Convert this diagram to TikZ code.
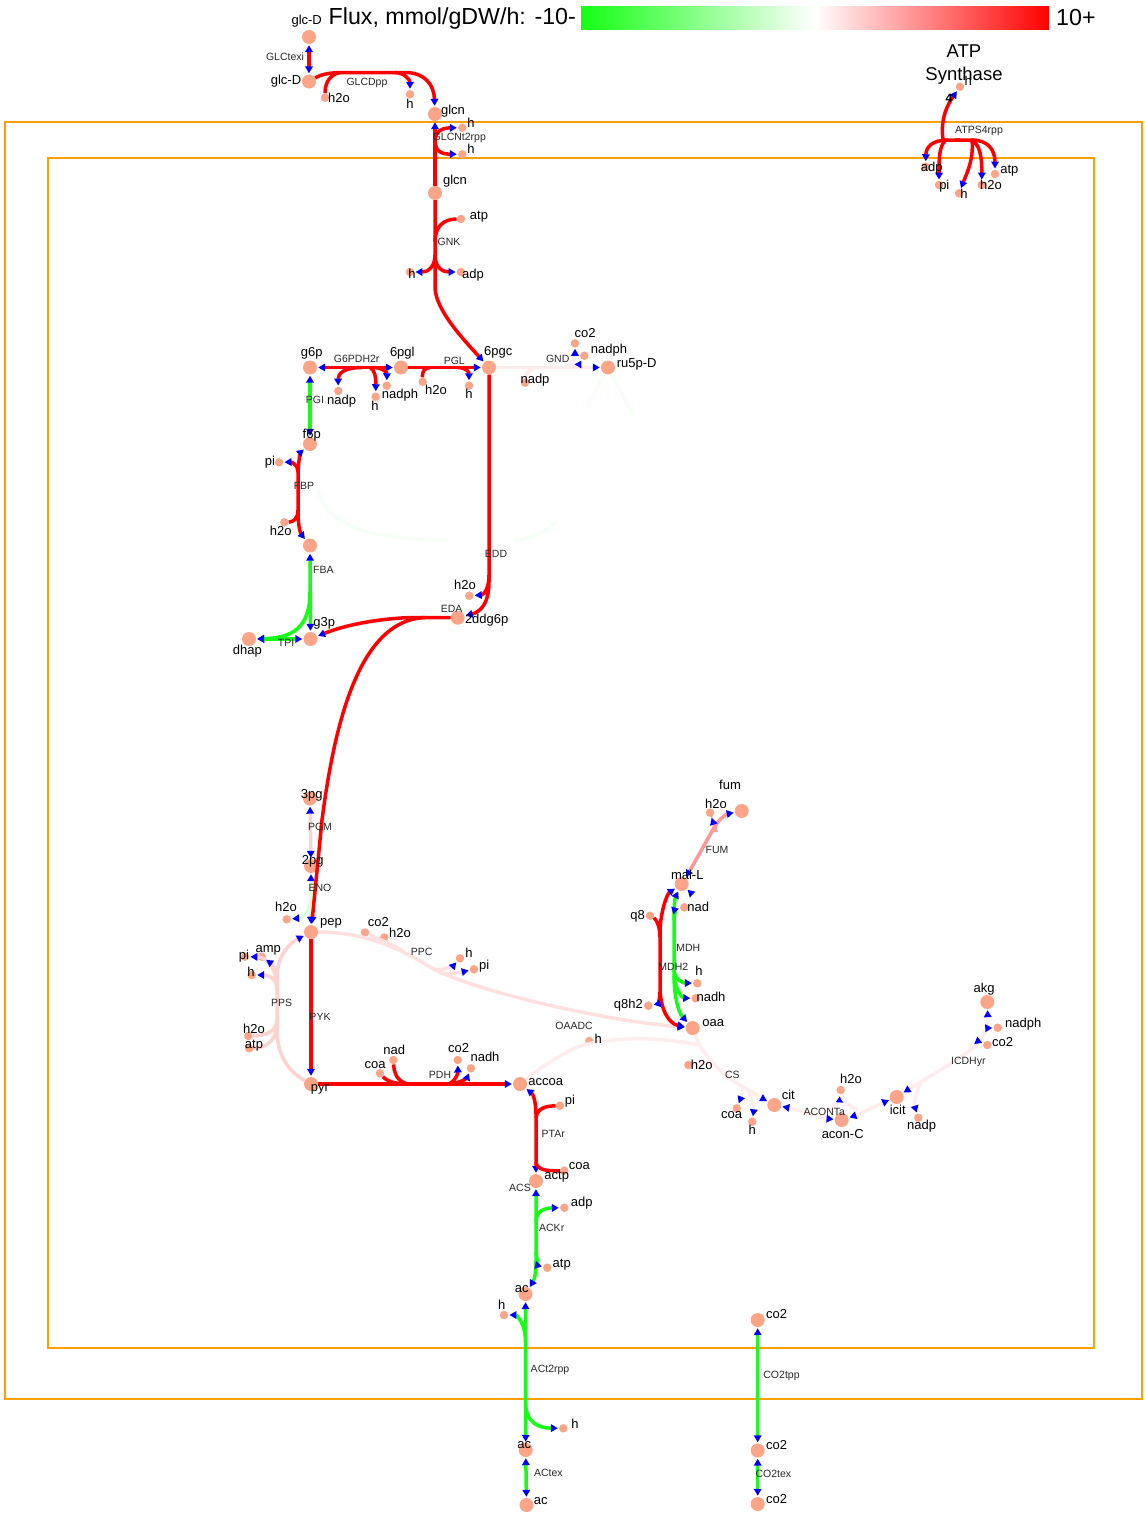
\documentclass[tikz,border=0pt]{standalone}
\usepackage{fontspec}
\setmainfont{Liberation Sans}
\usetikzlibrary{arrows.meta}

\definecolor{fred}{RGB}{255,0,0}
\definecolor{fgreen}{RGB}{20,255,20}
\definecolor{fpink}{RGB}{255,210,210}
\definecolor{flight}{RGB}{255,224,224}
\definecolor{fsalmon}{RGB}{255,150,150}
\definecolor{ffaint}{RGB}{255,236,236}
\definecolor{fnil}{RGB}{255,248,248}
\definecolor{fglight}{RGB}{220,255,220}
\definecolor{fgfaint}{RGB}{246,255,246}
\definecolor{metc}{RGB}{250,165,135}
\definecolor{compc}{RGB}{255,160,0}
\definecolor{rlabc}{RGB}{40,40,40}

\begin{document}
\begin{tikzpicture}[x=1pt, y=-1pt,
  >={Triangle[length=7pt, width=7.5pt, color=blue]},
  met/.style={circle, fill=metc, inner sep=0pt, minimum size=14pt},
  cof/.style={circle, fill=metc, inner sep=0pt, minimum size=8.5pt},
  mlab/.style={font=\fontsize{13}{14}\selectfont, inner sep=0pt, text height=9pt, text depth=2.5pt},
  rlab/.style={font=\fontsize{10.5}{11}\selectfont, text=rlabc, inner sep=0pt, text height=7.5pt, text depth=2pt},
  flux/.style={line width=3.5pt},
  ar/.style={->, shorten >=1pt},
  ar2/.style={<->, shorten >=1pt, shorten <=1pt}]
  \useasboundingbox (0,0) rectangle (1144,1513);

  % compartments
  \draw[compc, line width=2pt] (5,122) rectangle (1142,1399);
  \draw[compc, line width=2pt] (48,158) rectangle (1094,1348);

  % legend
  \shade[left color=fgreen, right color=white] (581,6) rectangle (815,29);
  \shade[left color=white, right color=fred] (815,6) rectangle (1049,29);
  \node[font=\fontsize{23.2}{25}\selectfont, anchor=east, inner sep=0pt] (ttl) at (576,18) {Flux, mmol/gDW/h: -10-};
  \node[font=\fontsize{23.2}{25}\selectfont, anchor=west, inner sep=0pt] (tmax) at (1056,18) {10+};
  \node[font=\fontsize{18.5}{23}\selectfont, align=center, inner sep=0pt] (atps) at (964,65) {ATP\\Synthase};

  % metabolites
  \foreach \n/\x/\y in {glcDe/309/37, glcDp/309/81.5, glcnp/435/114, glcnc/435/193,
      g6p/310/367.5, pgl/401/367.5, pgc/489/367.5, ru5p/608/367.5, f6p/310/444,
      fdp/310/545.5, g3p/310.5/639, dhap/249/639, ddg/457.7/617.7, pgt/310/798.5,
      pgd/311/866, pep/311/932, pyr/311/1084, accoa/520/1084, actp/536/1181,
      acc/525.5/1294, acp/525.7/1450, ace/526.5/1505, co2c/757.7/1320,
      co2p/757.7/1450.5, co2e/757.7/1504, fum/741.7/811, malL/681.7/884,
      oaa/692.7/1028, cit/774.3/1105, acon/841.7/1120, icit/896.7/1097, akg/987.3/1002}
    \node[met] (\n) at (\x,\y) {};
  \foreach \n/\x/\y in {h2oGP/325/97.7, hGP/410/94.3, hTa/462.3/127.7, hTb/462.3/154.3,
      atpGNK/461/219, adpGNK/461/272, hGNK/410/272, hATa/960/86.7, adpAT/925.7/166.7,
      piAT/939/185, hATb/959/193.3, h2oAT/981.7/185, atpAT/995/174,
      nadpGDH/338.3/391, hGDH/375.7/396.7, nadphGDH/386.7/385.7, h2oPGL/422.7/381.7,
      hPGL/469/385.7, nadpGND/525/382.7, co2GND/575/343.3, nadphGND/584.3/355.7,
      piFBP/279/462.3, h2oFBP/284.3/522.3, h2oEDD/469.3/595.7, h2oENO/286.7/919.3,
      piPPS/245/956.7, ampPPS/261.7/956.7, hPPS/251.7/975, h2oPPS/248.3/1036,
      atpPPS/249.3/1048.3, co2PPC/365/932.5, h2oPPC/384.3/937.5, hPPC/460/958.3,
      piPPC/474/969.3, coaPDH/380/1073.3, nadPDH/393.3/1060, co2PDH/457.7/1060,
      nadhPDH/471/1068.3, piPTA/560/1105.7, coaPTA/564.3/1170.7, adpACK/564.3/1207.7,
      atpACK/547.3/1267.7, hACa/504/1315, hACb/563.3/1428.3, h2oFUM/710/812.7,
      nadMDH/684.3/907.3, hMDH/697.3/983.3, nadhMDH/695.7/998.3, qe/650/915.7,
      qeh/648.3/1005.7, hOAA/589.3/1041, h2oCS/688.3/1065, coaCS/736.7/1108.3,
      hCS/752.3/1121.7, h2oAC/840.7/1090, nadpICD/918.3/1117.7,
      nadphICD/997.7/1027.7, co2ICD/987.3/1045}
    \node[cof] (\n) at (\x,\y) {};

  % glucose uptake
  \draw[flux, fred, ar2] (glcDe) -- (glcDp);
  \draw[flux, fred, ar] (glcDp) .. controls (322,74) and (330,72.5) .. (345,72.5) -- (405,72.5) .. controls (425,72.5) and (434,85) .. (glcnp);
  \draw[flux, fred] (340,72.5) .. controls (328,75) and (325,85) .. (h2oGP);
  \draw[flux, fred, ar] (395,72.5) .. controls (405,73) and (410,80) .. (hGP);
  \draw[flux, fred, ar] (glcnc) -- (glcnp);
  \draw[flux, fred, ar] (435,142) .. controls (435,131) and (442,128) .. (hTa);
  \draw[flux, fred, ar] (435,140) .. controls (435,152) and (442,154) .. (hTb);
  \draw[flux, fred, ar] (glcnc) -- (435,288) .. controls (436,310) and (462,338) .. (pgc);
  \draw[flux, fred] (435,242) .. controls (435,226) and (444,219) .. (atpGNK);
  \draw[flux, fred, ar] (435,255) .. controls (435,268) and (443,272) .. (adpGNK);
  \draw[flux, fred, ar] (435,255) .. controls (435,268) and (427,272) .. (hGNK);

  % ATP synthase
  \draw[flux, fred, ar] (960,140) -- (943,140) .. controls (940,118) and (948,104) .. (hATa);
  \draw[flux, fred, ar] (948,140) .. controls (931,140) and (926,148) .. (adpAT);
  \draw[flux, fred, ar] (946,140) .. controls (939,145) and (939,160) .. (piAT);
  \draw[flux, fred, ar] (955,140) -- (972,140) .. controls (974,160) and (966,175) .. (hATb);
  \draw[flux, fred, ar] (970,140) .. controls (980,142) and (982,158) .. (h2oAT);
  \draw[flux, fred, ar] (972,140) .. controls (988,140) and (995,150) .. (atpAT);

  % pentose phosphate / ED
  \draw[flux, fred, ar2] (g6p) -- (pgl);
  \draw[flux, fred, ar] (362,367.5) .. controls (345,367.5) and (338,373) .. (nadpGDH);
  \draw[flux, fred, ar] (370,367.5) .. controls (375,370) and (376,378) .. (hGDH);
  \draw[flux, fred, ar] (374,367.5) .. controls (384,368) and (387,373) .. (nadphGDH);
  \draw[flux, fred, ar] (pgl) -- (pgc);
  \draw[flux, fred] (430,367.5) .. controls (424,368) and (422,372) .. (h2oPGL);
  \draw[flux, fred, ar] (458,367.5) .. controls (467,368) and (469,372) .. (hPGL);
  \draw[flux, ffaint, ar] (pgc) -- (ru5p);
  \draw[flux, ffaint] (535,367.5) .. controls (528,370) and (526,375) .. (nadpGND);
  \draw[flux, ffaint, ar] (565,367.5) .. controls (572,364) and (575,358) .. (co2GND);
  \draw[flux, ffaint, ar] (568,367.5) .. controls (576,366) and (580,363) .. (nadphGND);
  \draw[flux, fgfaint] (ru5p) -- (587,407);
  \draw[flux, fgfaint] (ru5p) -- (633,415);
  \draw[flux, fgfaint] (318,490) .. controls (325,525) and (370,540) .. (447,540);
  \draw[flux, fgfaint] (513,540) .. controls (530,540) and (545,532) .. (556,522);
  \draw[flux, fred, ar] (pgc) -- (489,582) .. controls (489,604) and (480,612) .. (ddg);
  \draw[flux, fred, ar] (489,575) .. controls (489,590) and (483,595) .. (h2oEDD);

  % upper glycolysis
  \draw[flux, fgreen, ar2] (f6p) -- (g6p);
  \draw[flux, fred, ar2] (f6p) .. controls (301,452) and (298,462) .. (298,475) -- (298,512) .. controls (298,527) and (301,534) .. (fdp);
  \draw[flux, fred, ar] (298,472) .. controls (298,465) and (292,462) .. (piFBP);
  \draw[flux, fred] (298,510) .. controls (298,519) and (293,522) .. (h2oFBP);
  \draw[flux, fgreen, ar2] (fdp) -- (g3p);
  \draw[flux, fgreen, ar] (310,592) .. controls (310,628) and (292,638) .. (dhap);
  \draw[flux, fgreen, ar2] (dhap) -- (g3p);

  % lower glycolysis
  \draw[flux, fpink, ar2] (pgt) -- (pgd);
  \draw[flux, fglight, ar2] (pgd) -- (pep);
  \draw[flux, fglight, ar] (311,898) .. controls (311,912) and (302,918) .. (h2oENO);
  \draw[flux, fred, ar] (ddg) -- (415,617.5) .. controls (380,618) and (345,625) .. (g3p);
  \draw[flux, fred, ar] (425,617.5) .. controls (360,620) and (335,720) .. (322,820) -- (pep);
  \draw[flux, fpink, ar] (pyr) .. controls (286,1070) and (277,1052) .. (277,1030) -- (277,978) .. controls (277,957) and (288,944) .. (pep);
  \draw[flux, fpink] (277,1020) .. controls (277,1031) and (266,1036) .. (h2oPPS);
  \draw[flux, fpink] (277,1024) .. controls (277,1040) and (266,1048) .. (atpPPS);
  \draw[flux, fpink, ar] (277,990) .. controls (277,966) and (266,957) .. (piPPS);
  \draw[flux, fpink, ar] (277,985) .. controls (277,972) and (272,964) .. (ampPPS);
  \draw[flux, fpink, ar] (277,988) .. controls (277,979) and (269,975) .. (hPPS);
  \draw[flux, fred, ar] (pep) -- (pyr);
  \draw[flux, flight, ar] (pep) .. controls (360,932) and (395,945) .. (430,967) .. controls (470,990) and (600,1020) .. (oaa);
  \draw[flux, flight] (398,948) .. controls (382,940) and (372,936) .. (co2PPC);
  \draw[flux, flight] (403,951) .. controls (392,946) and (386,943) .. (h2oPPC);
  \draw[flux, flight, ar] (436,970) .. controls (448,969) and (454,965) .. (hPPC);
  \draw[flux, flight, ar] (440,973) .. controls (452,974) and (462,972) .. (piPPC);

  % pyruvate to acetate
  \draw[flux, ffaint] (700,1045) .. controls (650,1035) and (600,1038) .. (575,1048) .. controls (555,1058) and (540,1068) .. (accoa);
  \draw[flux, fred, ar] (pyr) -- (accoa);
  \draw[flux, fred] (402,1083.5) .. controls (390,1083.5) and (384,1078) .. (coaPDH);
  \draw[flux, fred] (406,1083.5) .. controls (396,1080) and (394,1072) .. (nadPDH);
  \draw[flux, fred, ar] (450,1083.5) .. controls (456,1080) and (458,1073) .. (co2PDH);
  \draw[flux, fred, ar] (452,1083.5) .. controls (462,1082) and (467,1078) .. (nadhPDH);
  \draw[flux, fred, ar2] (accoa) .. controls (533,1094) and (536,1102) .. (536,1114) -- (actp);
  \draw[flux, fred] (536,1118) .. controls (537,1108) and (546,1106) .. (piPTA);
  \draw[flux, fred] (536,1162) .. controls (537,1170) and (546,1171) .. (coaPTA);
  \draw[flux, fgreen, ar2] (actp) -- (536,1260) .. controls (536,1275) and (534,1280) .. (acc);
  \draw[flux, fgreen, ar] (536,1222) .. controls (536,1210) and (546,1208) .. (adpACK);
  \draw[flux, fgreen, ar] (536,1252) .. controls (537,1262) and (540,1266) .. (atpACK);
  \draw[flux, fgreen, ar2] (acc) -- (acp);
  \draw[flux, fgreen, ar] (525.5,1342) .. controls (525.5,1322) and (516,1315) .. (hACa);
  \draw[flux, fgreen, ar] (525.5,1402) .. controls (525.5,1424) and (540,1428) .. (hACb);
  \draw[flux, fgreen, ar2] (acp) -- (ace);
  \draw[flux, fgreen, ar2] (co2c) -- (co2p);
  \draw[flux, fgreen, ar2] (co2p) -- (co2e);

  % TCA
  \draw[flux, fsalmon, ar2] (malL) .. controls (695,862) and (708,838) .. (715,826) .. controls (720,818) and (727,814) .. (fum);
  \draw[flux, fsalmon, ar] (716,832) .. controls (715,825) and (713,822) .. (h2oFUM);
  \draw[flux, fnil, ar] (704,906) .. controls (698,900) and (694,896) .. (malL);
  \draw[flux, fred, ar2] (malL) .. controls (667,894) and (661,910) .. (660,930) -- (660,990) .. controls (661,1012) and (670,1024) .. (oaa);
  \draw[flux, fred] (660,937) .. controls (660,926) and (656,919) .. (qe);
  \draw[flux, fred, ar] (660,992) .. controls (660,1000) and (657,1004) .. (qeh);
  \draw[flux, fgreen, ar2] (malL) .. controls (675,898) and (674,905) .. (674,915) -- (674,975) .. controls (674,995) and (678,1012) .. (oaa);
  \draw[flux, fgreen, ar] (674,920) .. controls (674,912) and (678,909) .. (nadMDH);
  \draw[flux, fgreen, ar] (674,970) .. controls (675,980) and (683,983) .. (hMDH);
  \draw[flux, fgreen, ar] (674,976) .. controls (676,992) and (683,998) .. (nadhMDH);
  \draw[flux, ffaint, ar] (oaa) .. controls (700,1050) and (720,1075) .. (745,1088) .. controls (752,1092) and (758,1096) .. (cit);
  \draw[flux, ffaint] (712,1064) .. controls (700,1062) and (694,1064) .. (h2oCS);
  \draw[flux, ffaint, ar] (743,1087) .. controls (742,1095) and (740,1100) .. (coaCS);
  \draw[flux, ffaint, ar] (748,1090) .. controls (752,1100) and (754,1108) .. (hCS);
  \draw[flux, ffaint, ar2] (cit) .. controls (800,1110) and (820,1118) .. (acon);
  \draw[flux, ffaint, ar] (826,1112) .. controls (836,1106) and (840,1100) .. (h2oAC);
  \draw[flux, ffaint, ar2] (acon) .. controls (860,1114) and (875,1106) .. (icit);
  \draw[flux, ffaint] (858,1110) .. controls (846,1104) and (842,1100) .. (h2oAC);
  \draw[flux, ffaint, ar2] (icit) .. controls (920,1082) and (950,1065) .. (968,1052) .. controls (984,1040) and (988,1025) .. (akg);
  \draw[flux, ffaint, ar] (920,1084) .. controls (915,1095) and (914,1104) .. (nadpICD);
  \draw[flux, ffaint, ar] (982,1038) .. controls (985,1031) and (990,1028) .. (nadphICD);
  \draw[flux, ffaint, ar] (968,1052) .. controls (975,1045) and (980,1042) .. (co2ICD);

  % metabolite labels
  \foreach \x/\y/\t [count=\i] in {306.7/21.7/glc-D, 286/81/glc-D, 339/99/h2o, 410/105/h,
      453/111/glcn, 471/124/h, 471/150.7/h, 455/181/glcn, 479/216/atp, 473/275/adp,
      412/275/h, 968.3/82.7/h, 931.7/168.3/adp, 944.3/186.7/pi, 964/195/h,
      991/186.7/h2o, 1009.3/170.7/atp, 311.7/353.3/g6p, 402.3/353.3/6pgl,
      498.3/352.3/6pgc, 341.7/401/nadp, 375/407.3/h, 400/395/nadph, 436/391/h2o,
      469/395/h, 535/380/nadp, 585/334/co2, 609/350.7/nadph, 636.7/364/ru5p-D,
      311.7/435/f6p, 270/462.3/pi, 280.7/532.7/h2o, 324.3/623.3/g3p, 247.3/651/dhap,
      465/586.7/h2o, 486.7/620/2ddg6p, 311.7/795/3pg, 312.7/861/2pg, 286/908.3/h2o,
      331/922.7/pep, 320/1088.3/pyr, 244/956.7/pi, 268.3/949/amp, 251/973.3/h,
      254/1030.7/h2o, 254/1045.7/atp, 378.3/923.3/co2, 400/934/h2o, 469/954/h,
      484.3/966.7/pi, 375/1065/coa, 394.3/1051.7/nad, 458.7/1049.3/co2,
      485/1058.3/nadh, 545.7/1082.3/accoa, 570/1101.7/pi, 579.3/1166.7/coa,
      556.7/1176.7/actp, 581.7/1203.3/adp, 561.7/1264.3/atp, 521.7/1289/ac,
      501.7/1306/h, 575/1425/h, 524.3/1445.7/ac, 540.7/1501.7/ac, 776.7/1315.7/co2,
      776.7/1446.7/co2, 776.7/1500/co2, 730/786.7/fum, 716/805/h2o, 687.3/876.7/mal-L,
      698.3/908.3/nad, 699/972.7/h, 711/998/nadh, 637.7/916.7/q8, 628.3/1005.7/q8h2,
      713.3/1023.3/oaa, 598.3/1040/h, 701.7/1066.7/h2o, 731.7/1115/coa,
      752.3/1131.7/h, 788.3/1096/cit, 851/1080/h2o, 842.7/1135/acon-C,
      897.7/1111.7/icit, 921.7/1126.7/nadp, 984/989.3/akg, 1023.3/1024/nadph,
      1002.7/1043.3/co2}
    \node[mlab] (ml\i) at (\x,\y) {\t};

  % reaction labels
  \foreach \x/\y/\t [count=\i] in {285/58/GLCtexi, 367/82.7/GLCDpp, 459.3/137.3/GLCNt2rpp,
      449/243/GNK, 979/131/ATPS4rpp, 356.7/360/G6PDH2r, 454.3/361.7/PGL,
      557.7/359.3/GND, 315/401/PGI, 304/486.7/FBP, 323.3/571/FBA, 286/643.3/TPI,
      496/555/EDD, 451.7/610/EDA, 320/827.7/PGM, 320/888.3/ENO, 320/1017.7/PYK,
      281.7/1004/PPS, 421.7/952.3/PPC, 440/1076/PDH, 574/1026.7/OAADC,
      553.3/1135/PTAr, 520/1188.3/ACS, 551.7/1228.3/ACKr, 550/1370/ACt2rpp,
      548.3/1473.3/ACtex, 781.5/1375.7/CO2tpp, 773.3/1474.3/CO2tex, 688.3/949/MDH,
      673.3/967.3/MDH2, 717/851/FUM, 732.3/1075.7/CS, 824.3/1112.3/ACONTa,
      968.3/1061.7/ICDHyr}
    \node[rlab] (rl\i) at (\x,\y) {\t};
  \node[font=\bfseries\fontsize{12}{12}\selectfont, inner sep=0pt] (stoich) at (949,98.3) {4};
\end{tikzpicture}
\end{document}
